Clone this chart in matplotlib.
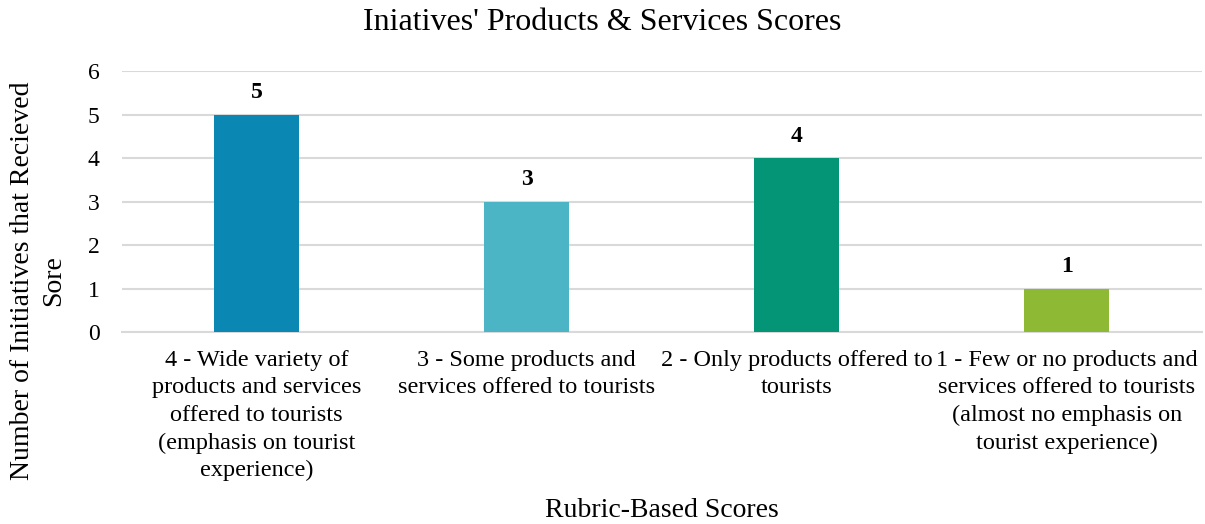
import matplotlib.pyplot as plt

categories = [
    "4 - Wide variety of\nproducts and services\noffered to tourists\n(emphasis on tourist\nexperience)",
    "3 - Some products and\nservices offered to tourists",
    "2 - Only products offered to\ntourists",
    "1 - Few or no products and\nservices offered to tourists\n(almost no emphasis on\ntourist experience)",
]
counts = [5, 3, 4, 1]
colors = ["#0B87B3", "#4BB5C5", "#039575", "#8DB935"]
yticks = [0, 1, 2, 3, 4, 5, 6]

plt.rcParams['font.family'] = ['Liberation Serif', 'DejaVu Serif']

fig = plt.figure(figsize=(12.05, 5.24), dpi=100)
ax = fig.add_axes([0.101, 0.3664, 0.8965, 0.4981])

x = list(range(len(categories)))
bars = ax.bar(x, counts, width=0.315, color=colors, zorder=3)
for xi, v in zip(x, counts):
    ax.text(xi, v + 0.26, str(v), ha='center', va='bottom',
            fontsize=17, fontweight='bold', color='black')

ax.set_xlim(-0.5, len(categories) - 0.5)
ax.set_ylim(0, 6)
ax.set_yticks(yticks)
ax.set_yticklabels([str(t) for t in yticks], fontsize=17)
ax.set_xticks(x)
ax.set_xticklabels(categories, fontsize=17.5, va='top', linespacing=1.4)
ax.tick_params(axis='both', length=0)
ax.tick_params(axis='y', pad=16)
ax.tick_params(axis='x', pad=13)

ax.grid(axis='y', color='#d9d9d9', linewidth=1.5, zorder=0)
for s in ['top', 'right', 'left']:
    ax.spines[s].set_visible(False)
ax.spines['bottom'].set_color('#d9d9d9')
ax.spines['bottom'].set_linewidth(1.5)

fig.text(0.5, 0.958, "Iniatives' Products & Services Scores", ha='center', va='center',
         fontsize=23)
ax_center = 0.101 + 0.8965 / 2
fig.text(ax_center, 0.025, "Rubric-Based Scores", ha='center', va='center', fontsize=20)
fig.text(0.0315, 0.464, "Number of Initiatives that Recieved\nSore", rotation=90,
         ha='center', va='center', fontsize=20, linespacing=1.3)

fig.savefig("out.png", dpi=100, facecolor='white')
